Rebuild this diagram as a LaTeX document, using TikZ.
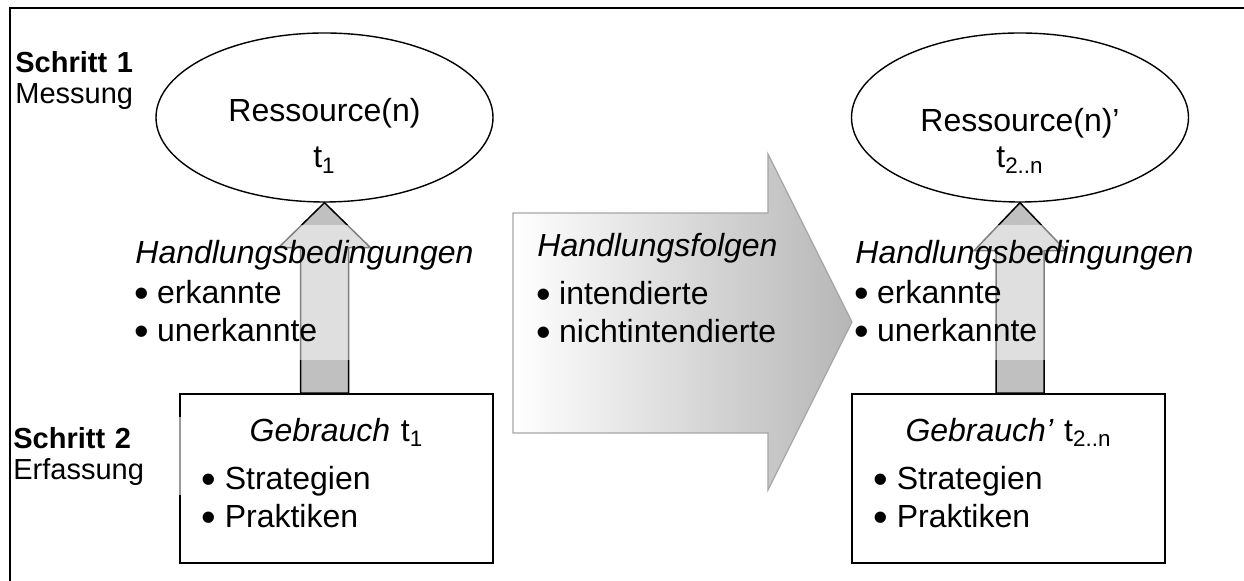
\documentclass[tikz,border=0pt]{standalone}
\usepackage{fontspec}
\usepackage{graphicx}
\setmainfont{Liberation Sans}
\usetikzlibrary{positioning, shapes.geometric, calc}
\definecolor{arrgray}{HTML}{C0C0C0}
\definecolor{rimgray}{HTML}{A6A6A6}
\definecolor{shadegray}{HTML}{B6B6B6}
\newcommand{\bigtext}{\fontsize{16}{19}\selectfont}
\newcommand{\sidetext}{\fontsize{14.5}{15.5}\selectfont}
\newcommand{\blt}{\makebox[0.68em][l]{\hspace*{-0.04em}\raisebox{-0.12em}{\scalebox{1.3}{\textbullet}}}}

\begin{document}
\begin{tikzpicture}[x=0.5pt, y=-0.5pt,
    res/.style={draw, ellipse, line width=0.7pt, minimum width=168.5pt,
                minimum height=84.5pt, inner sep=0pt},
    restxt/.style={align=center, inner sep=0pt, font=\bigtext},
    usebox/.style={draw, line width=0.8pt, minimum width=156.5pt,
                   minimum height=84.5pt, inner sep=0pt},
    usetxt/.style={inner sep=0pt, text width=133.5pt, align=left, font=\bigtext},
    cond/.style={anchor=north west, fill=white, fill opacity=0.5, text opacity=1,
                 inner xsep=0pt, inner ysep=7.5pt, text width=178pt,
                 align=left, font=\bigtext},
    steplabel/.style={anchor=north west, fill=white, fill opacity=0.6, text opacity=1,
                      inner xsep=0pt, inner ysep=5pt, text width=84pt,
                      align=left, font=\sidetext},
    uparrow/.style={draw, fill=arrgray, line width=0.75pt, line join=miter},
    bigarrow/.style={draw=rimgray, line width=0.6pt, left color=white, right color=shadegray},
]
    \useasboundingbox (0,0) rectangle (1244,581);
    \draw[line width=1pt] (1244,8) -- (10,8) -- (10,581);

    % resources and use
    \node[res] (res1) at (324.5,117.5) {};
    \node[res] (res2) at (1020,117.5) {};
    \node[restxt, below=33pt of res1.north] (res1txt) {Ressource(n)\\[4pt]t\textsubscript{1}};
    \node[restxt, below=38pt of res2.north] (res2txt) {Ressource(n)’\\[-1pt]t\textsubscript{2..n}};

    \node[usebox] (gb1) at (336.5,478.5) {};
    \node[usebox] (gb2) at (1008.5,478.5) {};
    \node[usetxt, below=12.5pt of gb1.north] (gb1txt)
        {{\centering\textit{Gebrauch} t\textsubscript{1}\par}\vspace{5pt}%
         \blt Strategien\\\blt Praktiken};
    \node[usetxt, below=12.5pt of gb2.north] (gb2txt)
        {{\centering\textit{Gebrauch’} t\textsubscript{2..n}\par}\vspace{5pt}%
         \blt Strategien\\\blt Praktiken};

    % arrows from use to resources
    \draw[uparrow] ($(res1.south |- gb1.north)+(-24,0)$) -- ($(res1.south)+(-24,45)$)
        -- ($(res1.south)+(-46,45)$) -- (res1.south) -- ($(res1.south)+(46,45)$)
        -- ($(res1.south)+(24,45)$) -- ($(res1.south |- gb1.north)+(24,0)$) -- cycle;
    \draw[uparrow] ($(res2.south |- gb2.north)+(-24,0)$) -- ($(res2.south)+(-24,48)$)
        -- ($(res2.south)+(-46,48)$) -- (res2.south) -- ($(res2.south)+(46,48)$)
        -- ($(res2.south)+(24,48)$) -- ($(res2.south |- gb2.north)+(24,0)$) -- cycle;

    % big arrow in the middle
    \draw[bigarrow] (513,213) -- (768,213) -- (768,154) -- (852,322)
        -- (768,490) -- (768,433) -- (513,433) -- cycle;
    \node[anchor=north west, inner sep=0pt, align=left, font=\bigtext] (hf) at (537,233)
        {\textit{Handlungsfolgen}\\[5pt]\blt intendierte\\\blt nichtintendierte};

    \node[cond] (hb1) at (135,225)
        {\textit{Handlungsbedingungen}\\[1pt]\blt erkannte\\\blt unerkannte};
    \node[cond] (hb2) at (855,225)
        {\textit{Handlungsbedingungen}\\[1pt]\blt erkannte\\\blt unerkannte};

    \node[steplabel, text width=70pt] (s1) at (15,41) {\textbf{Schritt 1}\\Messung};
    \node[steplabel] (s2) at (13,417) {\textbf{Schritt 2}\\Erfassung};
\end{tikzpicture}
\end{document}
